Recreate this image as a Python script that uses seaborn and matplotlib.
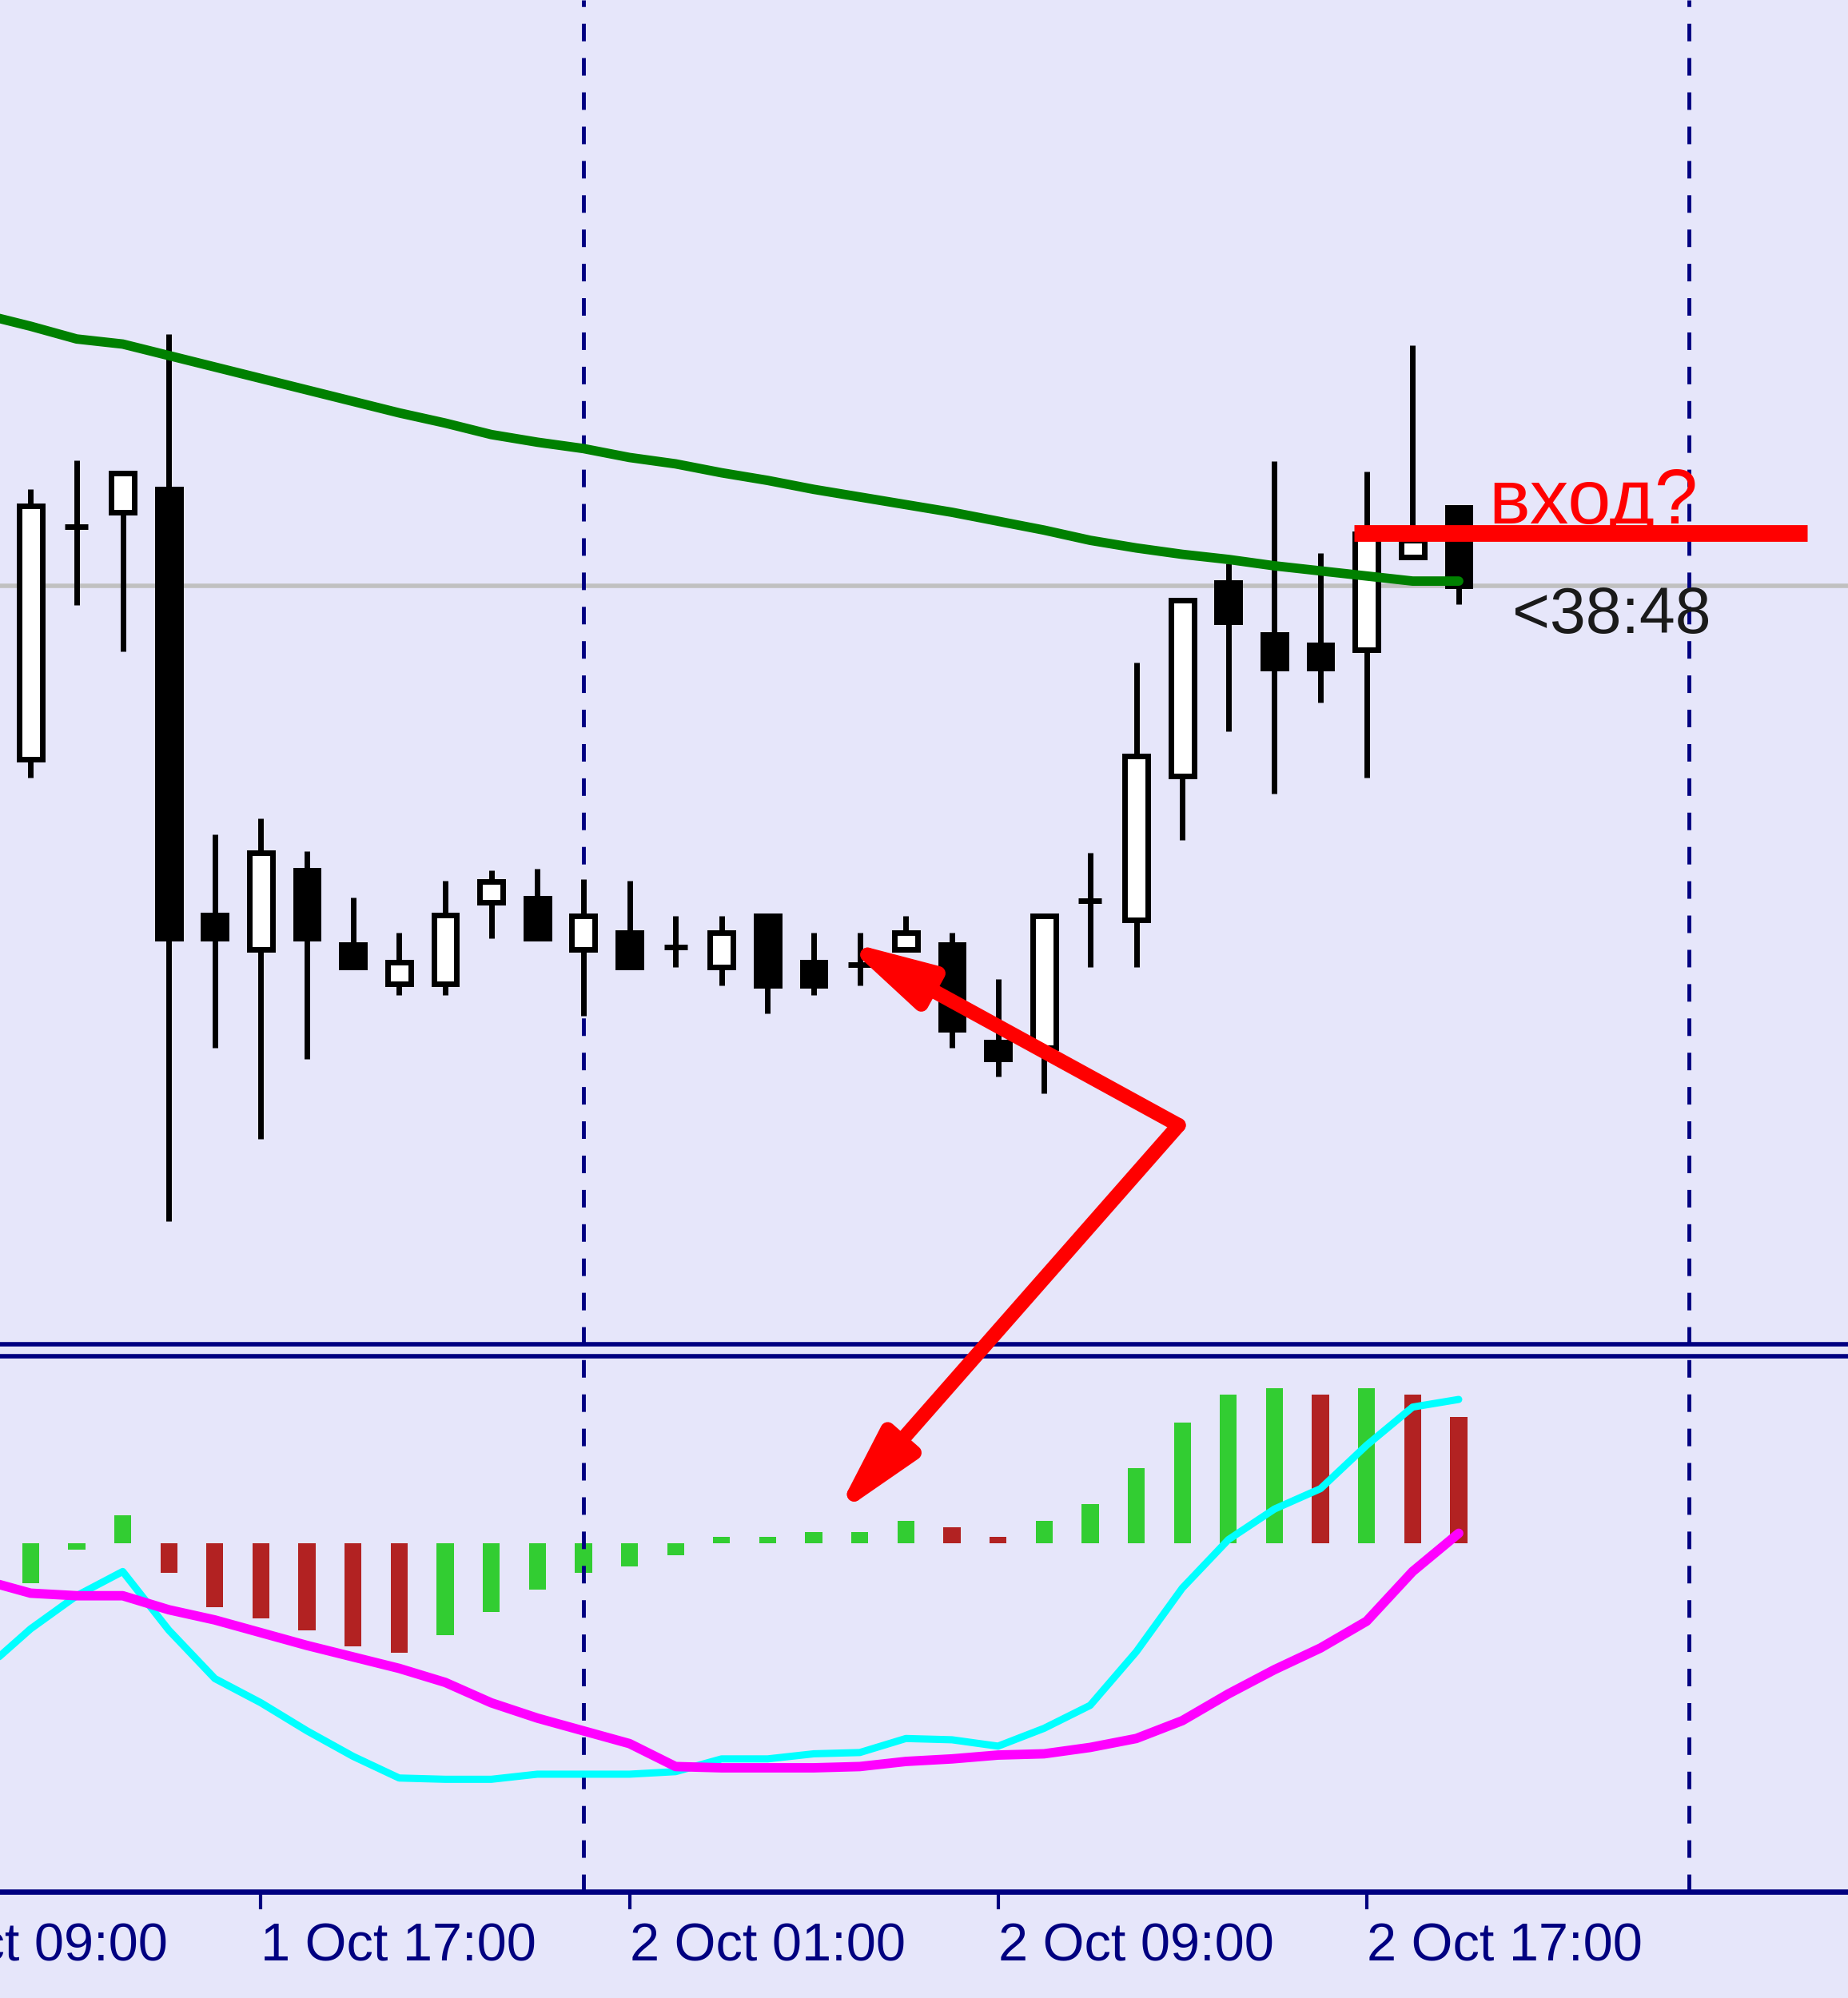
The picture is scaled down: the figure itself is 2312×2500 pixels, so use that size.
# Gráfico horario estilo MT4: velas + media móvil + histograma con dos líneas de señal
import numpy as np
import seaborn as sns
import matplotlib.pyplot as plt
from matplotlib.patches import ConnectionPatch

# ---- datos (velas 1 Oct 12:00 ... 2 Oct 19:00) ----
open_ = [504, 687, 698, 716, 382, 355, 417, 359, 328, 328, 392, 395, 355, 368, 357, 341,
         381, 345, 343, 355, 359, 282, 278, 393, 378, 491, 643, 602, 594, 590, 663, 702]
high = [716, 739, 729, 838, 445, 458, 432, 396, 368, 409, 417, 418, 410, 409, 381, 381,
        381, 368, 368, 381, 368, 332, 381, 431, 580, 629, 658, 738, 666, 730, 829, 702]
low = [490, 625, 589, 142, 278, 206, 269, 341, 319, 319, 364, 364, 303, 341, 341, 327,
       305, 319, 327, 355, 278, 255, 242, 341, 341, 441, 526, 477, 549, 490, 663, 626]
close = [703, 687, 729, 364, 364, 431, 364, 341, 345, 382, 408, 364, 381, 341, 357, 368,
         327, 327, 343, 368, 292, 269, 381, 393, 507, 629, 612, 576, 576, 681, 676, 640]

# media móvil (empieza una vela antes, fuera del gráfico)
ma_x = list(range(-1, 32))
ma = [853, 844, 834, 830, 821, 812, 803, 794, 785, 776, 768, 759, 753, 748, 741, 736, 729,
      723, 716, 710, 704, 698, 691, 684, 676, 670, 665, 661, 656, 652, 648, 644, 644]

# indicador inferior
hist = [-31, -5, 22, -23, -50, -59, -68, -81, -86, -72, -54, -36, -23, -18, -9, 5,
        5, 9, 9, 18, 13, 5, 18, 31, 59, 95, 117, 122, 117, 122, 117, 99]
hist_col = ['g', 'g', 'g', 'r', 'r', 'r', 'r', 'r', 'r', 'g', 'g', 'g', 'g', 'g', 'g', 'g',
            'g', 'g', 'g', 'g', 'r', 'r', 'g', 'g', 'g', 'g', 'g', 'g', 'r', 'g', 'r', 'r']
line_x = list(range(-1, 32))
fast = [-99, -67, -41, -22, -68, -106, -125, -147, -167, -184, -185, -185, -181, -181, -181, -179,
        -169, -169, -165, -164, -153, -154, -159, -145, -127, -85, -35, 3, 27, 43, 77, 107, 113]
slow = [-29, -39, -41, -41, -52, -60, -70, -80, -89, -98, -109, -125, -137, -147, -157, -175,
        -176, -176, -176, -175, -171, -169, -166, -165, -160, -153, -139, -118, -99, -82, -61, -22, 8]

tick_pos = [-3, 5, 13, 21, 29]
tick_labels = ['1 Oct 09:00', '1 Oct 17:00', '2 Oct 01:00', '2 Oct 09:00', '2 Oct 17:00']
day_lines = [12, 36]

entry_level = 682          # línea roja de entrada
entry_span = (28.73, 38.56)
arrow_vertex = (24.92, 217)
arrow_tip_price = (17.6, 362)
arrow_tip_ind = (17.45, 21)

BG = '#e6e6fa'
NAVY = '#000080'

sns.set_style('white')
plt.rcParams['font.family'] = ['Liberation Sans', 'DejaVu Sans']
plt.rcParams['lines.scale_dashes'] = False

fig = plt.figure(figsize=(23.12, 25), dpi=100, facecolor=BG)
ax = fig.add_axes([0, 0.32712, 1, 0.67288], facecolor=BG)
ax2 = fig.add_axes([0, 0.05332, 1, 0.26796], facecolor=BG)

idx = np.arange(len(close))
o = np.array(open_); c = np.array(close)

# ---- panel de precio ----
ax.axhline(close[-1], color='#c0c0c0', lw=4, zorder=1)
for d in day_lines:
    ax.axvline(d, color=NAVY, lw=3.5, ls=(0, (15.8, 15.1)), zorder=1.5)
ax.vlines(idx, low, high, color='black', lw=5, zorder=3)
body_col = ['white' if cc > oo else 'black' for oo, cc in zip(o, c)]
ax.bar(idx, np.abs(c - o), bottom=np.minimum(o, c), width=0.5, color=body_col,
       edgecolor='black', linewidth=5, zorder=3.5)
sns.lineplot(x=ma_x, y=ma, ax=ax, color='#008000', linewidth=8.5, zorder=4)
ax.lines[-1].set_linewidth(8.5)
ax.plot(entry_span, [entry_level, entry_level], color='#ff0000', lw=15,
        solid_capstyle='butt', zorder=5)
ax.text(31.65, 689, 'вход?', color='#ff0000', fontsize=70, ha='left', va='baseline', zorder=6)
ax.text(32.17, 603, '<38:48', color='#1a1a1a', fontsize=58, ha='left', va='baseline', zorder=6)

ax.set_xlim(-0.664, 39.45)
ax.set_ylim(45, 1100)
ax.set_xticks([]); ax.set_yticks([])
for s in ['top', 'left', 'right']:
    ax.spines[s].set_visible(False)
ax.spines['bottom'].set_color(NAVY)
ax.spines['bottom'].set_linewidth(4)

# ---- panel del indicador ----
for d in day_lines:
    ax2.axvline(d, color=NAVY, lw=3.5, ls=(0, (15.8, 15.1)), zorder=2.5)
ax2.bar(idx, hist, width=0.37, color=['#32cd32' if k == 'g' else '#b22222' for k in hist_col],
        linewidth=0, zorder=2)
sns.lineplot(x=line_x, y=fast, ax=ax2, color='#00ffff', linewidth=6.5, zorder=3)
ax2.lines[-1].set_linewidth(6.5)
sns.lineplot(x=line_x, y=slow, ax=ax2, color='#ff00ff', linewidth=8.5, zorder=4)
ax2.lines[-1].set_linewidth(8.5)

ax2.set_xlim(-0.664, 39.45)
ax2.set_ylim(-273, 147)
ax2.set_yticks([])
ax2.set_xticks(tick_pos[1:])
ax2.set_xticklabels(tick_labels[1:], ha='left', fontsize=48, color=NAVY)
ax2.tick_params(axis='x', direction='out', length=15.6, width=3, color=NAVY, pad=12, bottom=True)
ax2.tick_params(axis='y', left=False)
ax2.annotate(tick_labels[0], xy=(tick_pos[0], 0), xycoords=('data', 'axes fraction'),
             xytext=(0, -27.6), textcoords='offset points', ha='left', va='top',
             fontsize=48, color=NAVY, annotation_clip=False)
for s in ['left', 'right']:
    ax2.spines[s].set_visible(False)
ax2.spines['top'].set_color(NAVY)
ax2.spines['top'].set_linewidth(4)
ax2.spines['bottom'].set_color(NAVY)
ax2.spines['bottom'].set_linewidth(4.8)
ax.set_xlabel(''); ax.set_ylabel(''); ax2.set_xlabel(''); ax2.set_ylabel('')

# ---- flechas rojas ----
style = '-|>,head_length=3.2,head_width=0.8'
for tip, tax in [(arrow_tip_price, ax), (arrow_tip_ind, ax2)]:
    con = ConnectionPatch(xyA=arrow_vertex, coordsA='data', axesA=ax,
                          xyB=tip, coordsB='data', axesB=tax,
                          arrowstyle=style, mutation_scale=20, lw=13,
                          color='#ff0000', shrinkA=0, shrinkB=0, zorder=10)
    fig.add_artist(con)

fig.savefig('out.png', dpi=100, facecolor=BG)
